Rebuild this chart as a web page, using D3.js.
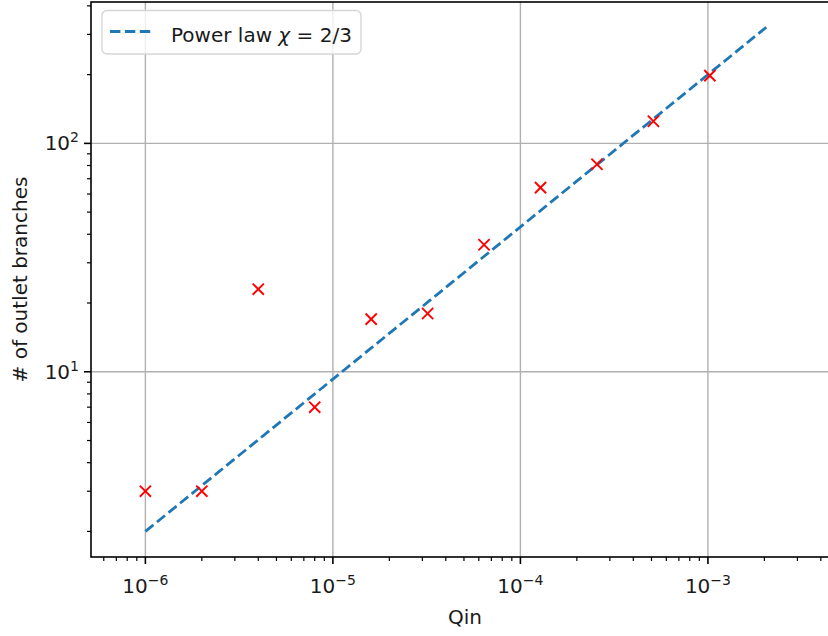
<!DOCTYPE html>
<html>
<head>
<meta charset="utf-8">
<script src="https://cdn.jsdelivr.net/npm/d3@7"></script>
<style>
  html, body { margin: 0; padding: 0; background: #fff; }
  svg { display: block; font-family: "DejaVu Sans", sans-serif; }
</style>
</head>
<body>
<svg id="chart" width="828" height="636"></svg>
<script>
// Inflow rate Qin and the number of outlet branches observed
const qin = [1e-6, 2e-6, 4e-6, 8e-6, 1.6e-5, 3.2e-5, 6.4e-5, 1.28e-4, 2.56e-4, 5.12e-4, 1.024e-3];
const branches = [3, 3, 23, 7, 17, 18, 36, 64, 81, 125, 198];

// Reference power law N = prefactor * (Q / Q0)^chi
const lawChi = 2 / 3;
const lawPrefactor = 2;
const lawQ0 = 1e-6;
const lawRange = [1e-6, 2.048e-3];

const xMajor = [1e-6, 1e-5, 1e-4, 1e-3];
const xMajorLabels = ["−6", "−5", "−4", "−3"];
const yMajor = [10, 100];
const yMajorLabels = ["1", "2"];

const svg = d3.select("#chart");
const m = { left: 91, right: 839, top: 2, bottom: 557 };

const x = d3.scaleLog().domain([Math.pow(10, -6.290), Math.pow(10, -2.301)]).range([m.left, m.right]);
const y = d3.scaleLog().domain([Math.pow(10, 0.189), Math.pow(10, 2.619)]).range([m.bottom, m.top]);

const clipId = "plotclip";
svg.append("defs").append("clipPath").attr("id", clipId)
  .append("rect").attr("x", m.left).attr("y", m.top)
  .attr("width", m.right - m.left).attr("height", m.bottom - m.top);

// grid
const grid = svg.append("g").attr("clip-path", `url(#${clipId})`);
grid.selectAll("line.gx").data(xMajor).join("line")
  .attr("x1", d => x(d)).attr("x2", d => x(d))
  .attr("y1", m.top).attr("y2", m.bottom)
  .attr("stroke", "#b0b0b0").attr("stroke-width", 1.4);
grid.selectAll("line.gy").data(yMajor).join("line")
  .attr("x1", m.left).attr("x2", m.right)
  .attr("y1", d => y(d)).attr("y2", d => y(d))
  .attr("stroke", "#b0b0b0").attr("stroke-width", 1.4);

const plot = svg.append("g").attr("clip-path", `url(#${clipId})`);

// power law line
const lawPts = lawRange.map(q => [q, lawPrefactor * Math.pow(q / lawQ0, lawChi)]);
plot.append("path")
  .datum(lawPts)
  .attr("d", d3.line().x(d => x(d[0])).y(d => y(d[1])))
  .attr("fill", "none")
  .attr("stroke", "#1f77b4")
  .attr("stroke-width", 2.8)
  .attr("stroke-dasharray", "10.4,4.5");

// markers
const s = 5.6;
const marks = plot.selectAll("g.mk").data(qin.map((q, i) => [q, branches[i]])).join("g")
  .attr("transform", d => `translate(${x(d[0])},${y(d[1])})`);
marks.append("path")
  .attr("d", `M${-s},${-s}L${s},${s}M${-s},${s}L${s},${-s}`)
  .attr("stroke", "#ff0000").attr("stroke-width", 1.9).attr("fill", "none");

// axes spines
const axisG = svg.append("g");
axisG.append("rect")
  .attr("x", m.left).attr("y", m.top)
  .attr("width", m.right - m.left).attr("height", m.bottom - m.top)
  .attr("fill", "none").attr("stroke", "#000").attr("stroke-width", 1.6);

// ticks
const xMinor = [];
for (let e = -7; e <= -2; e++) for (let k = 2; k <= 9; k++) {
  const v = k * Math.pow(10, e);
  if (v >= x.domain()[0] && v <= x.domain()[1]) xMinor.push(v);
}
const yMinor = [];
for (let e = 0; e <= 2; e++) for (let k = 2; k <= 9; k++) {
  const v = k * Math.pow(10, e);
  if (v >= y.domain()[0] && v <= y.domain()[1]) yMinor.push(v);
}
axisG.selectAll("line.xmaj").data(xMajor).join("line")
  .attr("x1", d => x(d)).attr("x2", d => x(d))
  .attr("y1", m.bottom).attr("y2", m.bottom + 7)
  .attr("stroke", "#000").attr("stroke-width", 1.6);
axisG.selectAll("line.xmin").data(xMinor).join("line")
  .attr("x1", d => x(d)).attr("x2", d => x(d))
  .attr("y1", m.bottom).attr("y2", m.bottom + 4)
  .attr("stroke", "#000").attr("stroke-width", 1.2);
axisG.selectAll("line.ymaj").data(yMajor).join("line")
  .attr("x1", m.left - 7).attr("x2", m.left)
  .attr("y1", d => y(d)).attr("y2", d => y(d))
  .attr("stroke", "#000").attr("stroke-width", 1.6);
axisG.selectAll("line.ymin").data(yMinor).join("line")
  .attr("x1", m.left - 4).attr("x2", m.left)
  .attr("y1", d => y(d)).attr("y2", d => y(d))
  .attr("stroke", "#000").attr("stroke-width", 1.2);

// tick labels
const fs = 20;
const supFs = 14;
xMajor.forEach((v, i) => {
  const t = axisG.append("text")
    .attr("x", x(v)).attr("y", 593)
    .attr("text-anchor", "middle")
    .attr("font-size", fs).attr("fill", "#1a1a1a");
  t.append("tspan").text("10");
  t.append("tspan").attr("dy", -8).attr("font-size", supFs).text(xMajorLabels[i]);
});
yMajor.forEach((v, i) => {
  const t = axisG.append("text")
    .attr("x", m.left - 12).attr("y", y(v) + 7)
    .attr("text-anchor", "end")
    .attr("font-size", fs).attr("fill", "#1a1a1a");
  t.append("tspan").text("10");
  t.append("tspan").attr("dy", -8).attr("font-size", supFs).text(yMajorLabels[i]);
});

// axis labels
svg.append("text")
  .attr("x", (m.left + m.right) / 2).attr("y", 624)
  .attr("text-anchor", "middle").attr("font-size", fs).attr("fill", "#1a1a1a")
  .text("Qin");
svg.append("text")
  .attr("transform", `translate(${27},${(m.top + m.bottom) / 2}) rotate(-90)`)
  .attr("text-anchor", "middle").attr("font-size", fs).attr("fill", "#1a1a1a")
  .text("# of outlet branches");

// legend
const lg = svg.append("g");
lg.append("rect")
  .attr("x", 102).attr("y", 10.5).attr("width", 259).attr("height", 43.5)
  .attr("rx", 5).attr("ry", 5)
  .attr("fill", "#fff").attr("fill-opacity", 0.8)
  .attr("stroke", "#d6d6d6").attr("stroke-width", 1.4);
lg.append("line")
  .attr("x1", 110).attr("x2", 152).attr("y1", 31.5).attr("y2", 31.5)
  .attr("stroke", "#1f77b4").attr("stroke-width", 2.8)
  .attr("stroke-dasharray", "10.4,4.5");
const lt = lg.append("text")
  .attr("x", 171).attr("y", 41.5)
  .attr("font-size", fs).attr("fill", "#1a1a1a");
lt.append("tspan").text("Power law ");
lt.append("tspan").attr("font-style", "italic").text("χ");
lt.append("tspan").text(" = 2/3");
</script>
</body>
</html>
